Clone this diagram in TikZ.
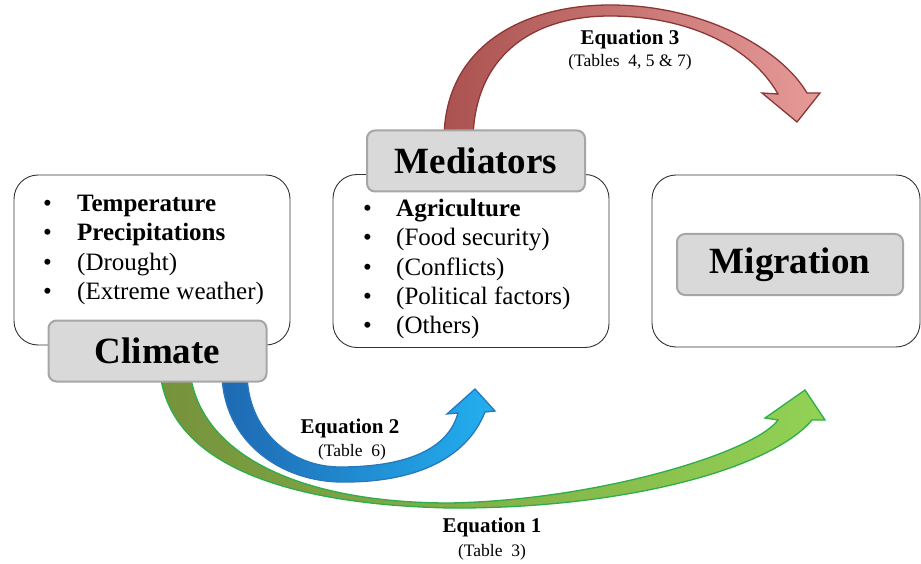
\documentclass[tikz,border=0pt]{standalone}
\usepackage{fontspec}
\setmainfont{Liberation Serif}
\definecolor{redL}{RGB}{170,82,80}
\definecolor{redR}{RGB}{230,155,153}
\definecolor{redS}{RGB}{140,55,53}
\definecolor{blueL}{RGB}{30,105,178}
\definecolor{blueR}{RGB}{35,175,240}
\definecolor{blueS}{RGB}{40,120,190}
\definecolor{greenL}{RGB}{118,146,60}
\definecolor{greenR}{RGB}{146,210,85}
\definecolor{greenS}{RGB}{45,174,74}
\begin{document}
\begin{tikzpicture}[x=1pt,y=-1pt,
  outerbox/.style={draw=black!80, line width=0.9pt, fill=white, rounded corners=24pt, inner sep=0pt},
  labelbox/.style={draw=black!35, line width=2pt, fill=black!15, rounded corners=8pt, inner sep=0pt,
     font=\fontsize{37}{44}\selectfont\bfseries},
  item/.style={anchor=base west, inner sep=0pt, font=\fontsize{25}{29}\selectfont},
  eqtitle/.style={anchor=base, inner sep=0pt, font=\fontsize{21}{25}\selectfont\bfseries},
  eqsub/.style={anchor=base, inner sep=0pt, font=\fontsize{17.5}{21}\selectfont},
  redarrow/.style={draw=redS, line width=1.3pt, left color=redL, right color=redR, line join=miter},
  bluearrow/.style={draw=blueS, line width=1.3pt, left color=blueL, right color=blueR, line join=miter},
  greenarrow/.style={draw=greenS, line width=1.3pt, left color=greenL, right color=greenR, line join=miter},
]
\useasboundingbox (0,0) rectangle (921,564);

% outer boxes
\node[outerbox, minimum width=276pt, minimum height=170pt] (climatebox) at (152,260) {};
\node[outerbox, minimum width=276pt, minimum height=173pt] (medbox) at (471,261) {};
\node[outerbox, minimum width=268pt, minimum height=172pt] (migbox) at (786,261) {};

% Equation 3 arrow (red)
\draw[redarrow] (444,140) .. controls (444,45) and (525,5) .. (610,5)
   .. controls (705,5) and (782,50) .. (807,93)
   -- (820,93) -- (797,122) -- (762,93) -- (778,94)
   .. controls (752,48) and (690,16) .. (610,16)
   .. controls (530,16) and (474,58) .. (473,140) -- cycle;

% Equation 2 arrow (blue)
\draw[bluearrow] (222,372) .. controls (222,440) and (280,483) .. (345,482)
   .. controls (410,482) and (465,462) .. (485,412)
   -- (495,411) -- (475,389) -- (447,414) -- (458,413)
   .. controls (448,450) and (405,467) .. (340,467)
   .. controls (290,467) and (247,430) .. (247,372) -- cycle;

% Equation 1 arrow (green)
\draw[greenarrow] (160,372) .. controls (170,470) and (300,505) .. (450,508)
   .. controls (620,509) and (770,470) .. (812,420)
   -- (825,420) -- (805,390) -- (765,418) -- (778,420)
   .. controls (755,452) and (600,500) .. (450,503)
   .. controls (300,503) and (200,455) .. (190,372) -- cycle;

% label boxes
\node[labelbox, minimum width=218pt, minimum height=61pt] (climate) at (157.5,351) {Climate};
\node[labelbox, minimum width=218pt, minimum height=61pt] (mediators) at (476,161) {Mediators};
\node[labelbox, minimum width=226pt, minimum height=61pt] (migration) at (790,264.5) {Migration};

% climate list
\node[item] (c1) at (43,211.5) {\makebox[34pt][l]{\textbullet}\textbf{Temperature}};
\node[item] (c2) at (43,240.5) {\makebox[34pt][l]{\textbullet}\textbf{Precipitations}};
\node[item] (c3) at (43,270) {\makebox[34pt][l]{\textbullet}(Drought)};
\node[item] (c4) at (43,299.5) {\makebox[34pt][l]{\textbullet}(Extreme weather)};

% mediators list
\node[item] (m1) at (363,217) {\makebox[33pt][l]{\textbullet}\textbf{Agriculture}};
\node[item] (m2) at (363,246) {\makebox[33pt][l]{\textbullet}(Food security)};
\node[item] (m3) at (363,275) {\makebox[33pt][l]{\textbullet}(Conflicts)};
\node[item] (m4) at (363,304) {\makebox[33pt][l]{\textbullet}(Political factors)};
\node[item] (m5) at (363,333) {\makebox[33pt][l]{\textbullet}(Others)};

% equation labels
\node[eqtitle] (e3) at (630,45) {Equation 3};
\node[eqsub] (t3) at (630,67) {(Tables\ \ 4, 5 \& 7)};
\node[eqtitle] (e2) at (350,433) {Equation 2};
\node[eqsub] (t2) at (352,456) {(Table\ \ 6)};
\node[eqtitle] (e1) at (492,532) {Equation 1};
\node[eqsub] (t1) at (492,556) {(Table\ \ 3)};
\end{tikzpicture}
\end{document}
